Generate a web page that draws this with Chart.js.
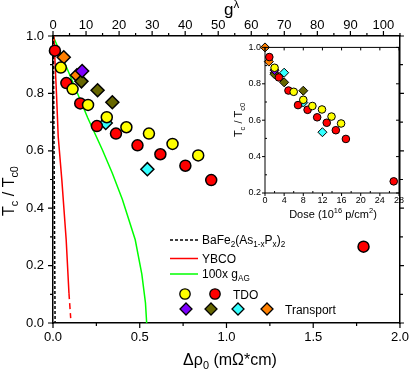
<!DOCTYPE html>
<html>
<head>
<meta charset="utf-8">
<script src="https://cdn.jsdelivr.net/npm/chart.js@4.4.0/dist/chart.umd.min.js"></script>
<style>
  body { margin: 0; background: #fff; }
  #wrap { position: relative; width: 416px; height: 371px; }
  #main { position: absolute; left: 0; top: 0; }
  #inset { position: absolute; left: 225px; top: 38px; }
</style>
</head>
<body>
<div id="wrap">
  <canvas id="main" width="416" height="371"></canvas>
  <canvas id="inset" width="185" height="190"></canvas>
</div>
<script>
const FONT = "'Liberation Sans', Arial, sans-serif";

// ================= MAIN PANEL DATA (x = Δρ0 in mΩ*cm, y = Tc/Tc0) =================
const tdoYellowX = [0.045, 0.113, 0.202, 0.310, 0.423, 0.553, 0.689, 0.837];
const tdoYellowY = [0.890, 0.815, 0.760, 0.717, 0.682, 0.660, 0.624, 0.584];
const tdoRedX = [0.011, 0.077, 0.157, 0.253, 0.363, 0.487, 0.619, 0.763, 0.912, 1.790];
const tdoRedY = [0.949, 0.836, 0.765, 0.686, 0.660, 0.619, 0.588, 0.548, 0.498, 0.266];
const trPurpleX = [0.168];
const trPurpleY = [0.878];
const trOliveX = [0.164, 0.257, 0.342];
const trOliveY = [0.842, 0.811, 0.769];
const trCyanX = [0.304, 0.544];
const trCyanY = [0.697, 0.536];
const trOrangeX = [0.062, 0.138];
const trOrangeY = [0.926, 0.863];

// model curves
const bafeX = [0.002, 0.012];
const bafeY = [1.0, 0.0];
const ybcoX = [0.005, 0.020, 0.030, 0.051, 0.076, 0.092];
const ybcoY = [1.0, 0.80, 0.65, 0.498, 0.29, 0.104];
const ybcoDashX = [0.092, 0.102];
const ybcoDashY = [0.104, 0.017];
const gagX = [0.0, 0.04, 0.10, 0.20, 0.285, 0.342, 0.40, 0.474, 0.512, 0.533, 0.540];
const gagY = [1.0, 0.945, 0.86, 0.715, 0.603, 0.522, 0.43, 0.29, 0.17, 0.07, 0.0];

// tick labels
const bottomTicks = [0.0, 0.5, 1.0, 1.5, 2.0];
const topTicks = [0, 10, 20, 30, 40, 50, 60, 70, 80, 90, 100];
const leftTicks = [0.0, 0.2, 0.4, 0.6, 0.8, 1.0];

// ================= INSET DATA (x = dose in 10^16 p/cm^2) =================
const doseYellowX = [2.0, 6.0, 8.0, 9.9, 11.9, 13.9, 15.9];
const doseYellowY = [0.888, 0.756, 0.712, 0.678, 0.659, 0.620, 0.582];
const doseRedX = [0.9, 2.9, 4.9, 6.9, 8.9, 10.9, 12.9, 14.8, 16.9, 26.9];
const doseRedY = [0.947, 0.835, 0.763, 0.683, 0.657, 0.616, 0.586, 0.545, 0.497, 0.264];
const dosePurpleX = [2.0];
const dosePurpleY = [0.875];
const doseOliveX = [2.0, 4.0, 8.0];
const doseOliveY = [0.852, 0.808, 0.762];
const doseCyanX = [4.0, 8.0, 12.0];
const doseCyanY = [0.861, 0.697, 0.534];
const doseOrangeX = [0.0, 0.8, 2.0];
const doseOrangeY = [1.0, 0.922, 0.860];
const insetXTicks = [0, 4, 8, 12, 16, 20, 24, 28];
const insetYTicks = [0.2, 0.4, 0.6, 0.8, 1.0];

const C = {
  yellow: "#ffff00", red: "#ff0000", purple: "#7f00ff",
  olive: "#666600", cyan: "#33ffff", orange: "#ff8000", green: "#00ff00"
};

const pts = (xs, ys) => xs.map((x, i) => ({ x, y: ys[i] }));
const steps = (a, b, s) => { const r = []; for (let v = a; v <= b + 1e-9; v += s) r.push(+v.toFixed(6)); return r; };

function markerSet(xs, ys, color, style, r, bw) {
  return {
    data: pts(xs, ys), showLine: false, pointStyle: style,
    pointRadius: r, pointHoverRadius: r, backgroundColor: color,
    borderColor: "#000", borderWidth: bw, pointBorderWidth: bw, order: 1
  };
}
function lineSet(xs, ys, color, dash) {
  return {
    data: pts(xs, ys), showLine: true, pointRadius: 0, borderColor: color,
    borderWidth: 1.5, borderDash: dash || [], fill: false, tension: 0, order: 2
  };
}

// ================= TEXT / TICK HELPERS =================
function richText(ctx, runs, x, y, size, align) {
  const widths = runs.map(([t, m]) => {
    ctx.font = `${m ? size * 0.68 : size}px ${FONT}`;
    return ctx.measureText(t).width;
  });
  const total = widths.reduce((a, b) => a + b, 0);
  let cx = align === "center" ? x - total / 2 : x;
  ctx.textAlign = "left";
  ctx.textBaseline = "alphabetic";
  ctx.fillStyle = "#000";
  runs.forEach(([t, m], i) => {
    ctx.font = `${m ? size * 0.68 : size}px ${FONT}`;
    const dy = m === "sub" ? size * 0.28 : m === "sup" ? -size * 0.42 : 0;
    ctx.fillText(t, cx, y + dy);
    cx += widths[i];
  });
}
function rotText(ctx, runs, x, y, size) {
  ctx.save();
  ctx.translate(x, y);
  ctx.rotate(-Math.PI / 2);
  richText(ctx, runs, 0, 0, size, "center");
  ctx.restore();
}
function tickMarks(ctx, scale, vals, len, axisPos, dir, horiz) {
  ctx.beginPath();
  vals.forEach(v => {
    const p = scale.getPixelForValue(v);
    if (horiz) { ctx.moveTo(p, axisPos); ctx.lineTo(p, axisPos + dir * len); }
    else { ctx.moveTo(axisPos, p); ctx.lineTo(axisPos + dir * len, p); }
  });
  ctx.stroke();
}
function marker(ctx, style, x, y, r, color) {
  ctx.beginPath();
  if (style === "circle") ctx.arc(x, y, r, 0, Math.PI * 2);
  else { ctx.moveTo(x, y - r); ctx.lineTo(x + r, y); ctx.lineTo(x, y + r); ctx.lineTo(x - r, y); ctx.closePath(); }
  ctx.fillStyle = color;
  ctx.fill();
  ctx.lineWidth = 1.3;
  ctx.strokeStyle = "#000";
  ctx.stroke();
}

const axisOpts = (extra) => Object.assign({
  type: "linear",
  grid: { display: false, drawTicks: false },
  border: { display: true, color: "#000", width: 1.5 }
}, extra);

// ================= MAIN CHART =================
const mainDecor = {
  id: "mainDecor",
  beforeDraw(chart) {
    const ctx = chart.ctx;
    ctx.save();
    ctx.fillStyle = "#fff";
    ctx.fillRect(0, 0, chart.width, chart.height);
    ctx.restore();
  },
  afterDraw(chart) {
    const ctx = chart.ctx;
    const a = chart.chartArea;
    const s = chart.scales;
    ctx.save();
    ctx.strokeStyle = "#000";
    ctx.lineWidth = 1.2;
    // ticks: all pointing outward
    tickMarks(ctx, s.x, steps(0, 2, 0.5), 5, a.bottom, 1, true);
    tickMarks(ctx, s.x, steps(0.25, 1.75, 0.5), 3, a.bottom, 1, true);
    tickMarks(ctx, s.x2, steps(0, 100, 10), 5, a.top, -1, true);
    tickMarks(ctx, s.x2, steps(5, 105, 10), 3, a.top, -1, true);
    tickMarks(ctx, s.y, steps(0, 1, 0.2), 5, a.left, -1, false);
    tickMarks(ctx, s.y, steps(0.1, 0.9, 0.2), 3, a.left, -1, false);
    tickMarks(ctx, s.y2, steps(0, 1, 0.2), 4, a.right, 1, false);
    tickMarks(ctx, s.y2, steps(0.1, 0.9, 0.2), 3, a.right, 1, false);

    // axis titles
    rotText(ctx, [["T"], ["c", "sub"], [" / T"], ["c0", "sub"]], 14, 191, 16);
    richText(ctx, [["Δρ"], ["0", "sub"], [" (mΩ*cm)"]], 230, 365, 16, "center");
    richText(ctx, [["g"], ["λ", "sup"]], 224, 15, 17, "left");

    // legend
    const lx0 = 170, lx1 = 198, tx = 202;
    ctx.lineWidth = 1.5;
    ctx.strokeStyle = "#000";
    ctx.setLineDash([3, 2]);
    ctx.beginPath(); ctx.moveTo(lx0, 240); ctx.lineTo(lx1, 240); ctx.stroke();
    ctx.setLineDash([]);
    ctx.strokeStyle = C.red;
    ctx.beginPath(); ctx.moveTo(lx0, 258.5); ctx.lineTo(lx1, 258.5); ctx.stroke();
    ctx.strokeStyle = C.green;
    ctx.beginPath(); ctx.moveTo(lx0, 274); ctx.lineTo(lx1, 274); ctx.stroke();
    richText(ctx, [["BaFe"], ["2", "sub"], ["(As"], ["1-x", "sub"], ["P"], ["x", "sub"], [")"], ["2", "sub"]], tx, 244, 12, "left");
    richText(ctx, [["YBCO"]], tx, 262.5, 12, "left");
    richText(ctx, [["100x g"], ["AG", "sub"]], tx, 277.5, 12, "left");
    marker(ctx, "circle", 185, 294, 5.2, C.yellow);
    marker(ctx, "circle", 215, 294, 5.2, C.red);
    richText(ctx, [["TDO"]], 233, 298.5, 12, "left");
    marker(ctx, "diamond", 186, 309, 6, C.purple);
    marker(ctx, "diamond", 211, 309, 6, C.olive);
    marker(ctx, "diamond", 238, 309, 6, C.cyan);
    marker(ctx, "diamond", 267, 309, 6, C.orange);
    richText(ctx, [["Transport"]], 285, 313.5, 12, "left");
    ctx.restore();
  }
};

new Chart(document.getElementById("main"), {
  type: "scatter",
  data: {
    datasets: [
      markerSet(tdoYellowX, tdoYellowY, C.yellow, "circle", 5.5, 1.5),
      markerSet(tdoRedX, tdoRedY, C.red, "circle", 5.5, 1.5),
      markerSet(trPurpleX, trPurpleY, C.purple, "rectRot", 6.5, 1.5),
      markerSet(trOliveX, trOliveY, C.olive, "rectRot", 6.5, 1.5),
      markerSet(trCyanX, trCyanY, C.cyan, "rectRot", 6.5, 1.5),
      markerSet(trOrangeX, trOrangeY, C.orange, "rectRot", 6.5, 1.5),
      lineSet(bafeX, bafeY, "#000", [3, 2]),
      lineSet(ybcoX, ybcoY, C.red),
      lineSet(ybcoDashX, ybcoDashY, C.red, [6, 4]),
      lineSet(gagX, gagY, C.green)
    ]
  },
  options: {
    responsive: false, animation: false, events: [],
    clip: false,
    layout: { padding: 0 },
    plugins: { legend: { display: false }, tooltip: { enabled: false } },
    scales: {
      x: axisOpts({
        position: "bottom", min: 0, max: 2,
        afterFit: s => { s.height = 48; },
        ticks: {
          stepSize: 0.5, autoSkip: false, maxRotation: 0, padding: 7, color: "#000",
          font: { family: FONT, size: 13 },
          callback: v => bottomTicks.includes(v) ? v.toFixed(1) : ""
        }
      }),
      x2: axisOpts({
        position: "top", min: 0, max: 105,
        afterFit: s => { s.height = 36; },
        ticks: {
          stepSize: 10, includeBounds: false, autoSkip: false, maxRotation: 0, padding: 3, color: "#000",
          font: { family: FONT, size: 13 },
          callback: v => topTicks.includes(v) ? String(v) : ""
        }
      }),
      y: axisOpts({
        position: "left", min: 0, max: 1,
        afterFit: s => { s.width = 53; },
        ticks: {
          stepSize: 0.2, autoSkip: false, padding: 9, color: "#000",
          font: { family: FONT, size: 13 },
          callback: v => leftTicks.some(t => Math.abs(t - v) < 1e-6) ? v.toFixed(1) : ""
        }
      }),
      y2: axisOpts({
        position: "right", min: 0, max: 1,
        afterFit: s => { s.width = 11; },
        ticks: { display: false }
      })
    }
  },
  plugins: [mainDecor]
});

// ================= INSET CHART =================
const insetDecor = {
  id: "insetDecor",
  beforeDatasetsDraw(chart) {
    const a = chart.chartArea;
    const ctx = chart.ctx;
    ctx.save();
    ctx.fillStyle = "#fff";
    ctx.fillRect(a.left, a.top, a.right - a.left, a.bottom - a.top);
    ctx.restore();
  },
  afterDraw(chart) {
    const ctx = chart.ctx;
    const a = chart.chartArea;
    const s = chart.scales;
    ctx.save();
    ctx.strokeStyle = "#000";
    ctx.lineWidth = 1;
    ctx.strokeRect(a.left, a.top, a.right - a.left, a.bottom - a.top);
    tickMarks(ctx, s.x, steps(0, 28, 4), 3, a.bottom, 1, true);
    tickMarks(ctx, s.x, steps(2, 26, 4), 2, a.bottom, -1, true);
    tickMarks(ctx, s.x, steps(0, 28, 4), 3, a.top, 1, true);
    tickMarks(ctx, s.y, steps(0.2, 1.0, 0.2), 3, a.left, -1, false);
    tickMarks(ctx, s.y, steps(0.3, 0.9, 0.2), 2, a.left, 1, false);
    tickMarks(ctx, s.y, steps(0.2, 1.0, 0.2), 3, a.right, -1, false);
    rotText(ctx, [["T"], ["c", "sub"], [" / T"], ["c0", "sub"]], 17, 82, 11);
    richText(ctx, [["Dose (10"], ["16", "sup"], [" p/cm"], ["2", "sup"], [")"]], 108, 180, 11, "center");
    ctx.restore();
  }
};

new Chart(document.getElementById("inset"), {
  type: "scatter",
  data: {
    datasets: [
      markerSet(doseYellowX, doseYellowY, C.yellow, "circle", 3.8, 1),
      markerSet(doseRedX, doseRedY, C.red, "circle", 3.8, 1),
      markerSet(dosePurpleX, dosePurpleY, C.purple, "rectRot", 4.5, 1),
      markerSet(doseOliveX, doseOliveY, C.olive, "rectRot", 4.5, 1),
      markerSet(doseCyanX, doseCyanY, C.cyan, "rectRot", 4.5, 1),
      markerSet(doseOrangeX, doseOrangeY, C.orange, "rectRot", 4.5, 1)
    ]
  },
  options: {
    responsive: false, animation: false, events: [],
    clip: false,
    layout: { padding: { top: 5, right: 11, left: 0, bottom: 0 } },
    plugins: { legend: { display: false }, tooltip: { enabled: false } },
    scales: {
      x: axisOpts({
        position: "bottom", min: 0, max: 28,
        border: { display: false },
        afterFit: s => { s.height = 35; },
        ticks: {
          stepSize: 4, autoSkip: false, maxRotation: 0, padding: 2, color: "#000",
          font: { family: FONT, size: 9 },
          callback: v => insetXTicks.includes(v) ? String(v) : ""
        }
      }),
      y: axisOpts({
        position: "left", min: 0.2, max: 1.0,
        border: { display: false },
        afterFit: s => { s.width = 40; },
        ticks: {
          stepSize: 0.2, autoSkip: false, padding: 4, color: "#000",
          font: { family: FONT, size: 9 },
          callback: v => insetYTicks.some(t => Math.abs(t - v) < 1e-6) ? v.toFixed(1) : ""
        }
      })
    }
  },
  plugins: [insetDecor]
});
</script>
</body>
</html>
